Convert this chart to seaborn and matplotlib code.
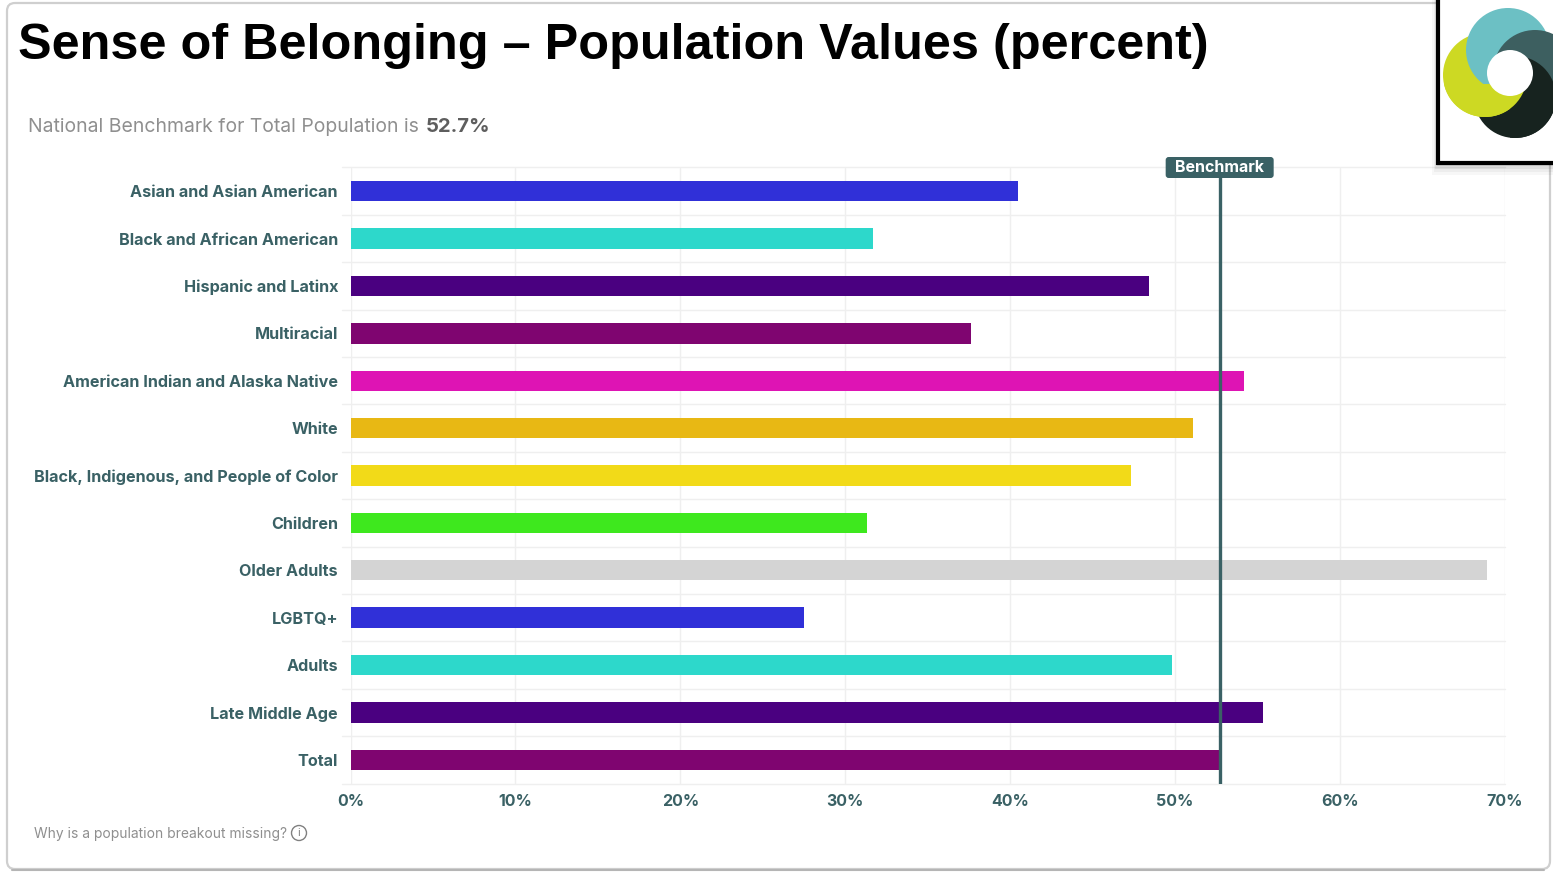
import matplotlib
matplotlib.use('Agg')
import matplotlib.pyplot as plt
from matplotlib.patches import Circle, FancyBboxPatch, Rectangle
from matplotlib.ticker import FuncFormatter
import pandas as pd
import seaborn as sns

categories = ['Asian and Asian American', 'Black and African American', 'Hispanic and Latinx',
              'Multiracial', 'American Indian and Alaska Native', 'White',
              'Black, Indigenous, and People of Color', 'Children', 'Older Adults',
              'LGBTQ+', 'Adults', 'Late Middle Age', 'Total']
values = [40.5, 31.7, 48.4, 37.6, 54.2, 51.1, 47.3, 31.3, 68.9, 27.5, 49.8, 55.3, 52.7]
colors = ['#3030d8', '#2dd8cb', '#4a0080', '#7f0570', '#de14b4', '#e8b814', '#f2da18',
          '#3ee81e', '#d4d4d4', '#3030d8', '#2dd8cb', '#4a0080', '#7f0570']
benchmark = 52.7
xticks = [0, 10, 20, 30, 40, 50, 60, 70]

W, H = 1553, 873
TEAL = '#3a6165'
df = pd.DataFrame({'group': categories, 'pct': values})

sns.set_theme(style='white')
plt.rcParams['font.family'] = ['Inter', 'DejaVu Sans']

fig = plt.figure(figsize=(W / 100, H / 100), dpi=100, facecolor='white')

# page furniture in pixel coordinates, under the chart
bg = fig.add_axes([0, 0, 1, 1], zorder=0)
bg.set_xlim(0, W)
bg.set_ylim(H, 0)
bg.axis('off')
bg.add_patch(FancyBboxPatch((7, 3), 1543, 866, boxstyle='round,pad=0,rounding_size=8',
                            fc='white', ec='#cfcfcf', lw=1.6))
bg.plot([12, 1544], [870, 870], color='#b5b5b5', lw=1.5)
bg.text(18, 46, 'Sense of Belonging \u2013 Population Values (percent)', family='Liberation Sans',
        fontsize=36.3, weight='bold', color='black', va='center')
sub = bg.text(28, 127, 'National Benchmark for Total Population is ', fontsize=13.95,
              color='#8f8f8f', va='center')
fig.canvas.draw()
ext = sub.get_window_extent()
bg.text(ext.x1 + 1, 127, '52.7%', fontsize=14.6, weight='bold', color='#5e5e5e', va='center')
bg.text(34, 834, 'Why is a population breakout missing?', fontsize=9.95, color='#8f8f8f', va='center')
bg.add_patch(Circle((299, 833), 7.5, fc='white', ec='#808080', lw=1))
bg.text(299, 833, 'i', fontsize=8, color='#808080', ha='center', va='center')

# chart
x0, x1, y0, y1 = 350.5, 1505, 167.5, 783.5
ax = fig.add_axes([x0 / W, 1 - y1 / H, (x1 - x0) / W, (y1 - y0) / H], zorder=1)
ax.patch.set_alpha(0)
sns.barplot(data=df, x='pct', y='group', hue='group', palette=colors, order=categories,
            hue_order=categories, dodge=False, legend=False, width=0.43, saturation=1,
            linewidth=0, ax=ax)
ax.set_xlim(0, 70)
ax.set_ylim(12.5, -0.5)
ax.set_xlabel('')
ax.set_ylabel('')
ax.set_xticks(xticks)
ax.xaxis.set_major_formatter(FuncFormatter(lambda v, p: f'{v:.0f}%'))
ax.set_axisbelow(True)
ax.grid(axis='x', color='#efefef', lw=1)
# row lines stick out a little to the left of the zero line
for i in range(14):
    ax.plot([-0.5, 70], [i - 0.5, i - 0.5], color='#efefef', lw=1, zorder=0.5, clip_on=False)
sns.despine(ax=ax, left=True, bottom=True, top=True, right=True)
ax.tick_params(axis='y', length=0, pad=9, labelsize=11.65, labelcolor=TEAL)
ax.tick_params(axis='x', length=0, pad=7.5, labelsize=11.5, labelcolor=TEAL)
for t in ax.get_xticklabels() + ax.get_yticklabels():
    t.set_fontweight('bold')

ax.axvline(benchmark, color=TEAL, lw=2.4, zorder=5)

# logo box and benchmark tag on top
top = fig.add_axes([0, 0, 1, 1], zorder=3)
top.set_xlim(0, W)
top.set_ylim(H, 0)
top.axis('off')
top.patch.set_alpha(0)

cx = ax.transData.transform((benchmark, 0))[0]
top.add_patch(FancyBboxPatch((cx - 54, 157), 108, 21, boxstyle='round,pad=0,rounding_size=3',
                             fc=TEAL, ec='none'))
top.text(cx, 167.5, 'Benchmark', fontsize=11.5, weight='bold', color='white', ha='center', va='center')

for off, a in [(12, 0.03), (9, 0.04), (6, 0.06), (3, 0.08)]:
    top.add_patch(Rectangle((1438 - off / 2, -5), 130, 168 + off, fc='black', ec='none', alpha=a))
top.add_patch(Rectangle((1438, -5), 130, 168, fc='white', ec='black', lw=3))


def disc(cx, cy, r, col, box=(1440, 0, 113, 161)):
    c = Circle((cx, cy), r, fc=col, ec='none')
    top.add_patch(c)
    c.set_clip_path(Rectangle(box[:2], box[2], box[3], transform=top.transData))


# the four rings overlap in a cycle, so black and yellow go down twice
disc(1515, 97, 41, '#17231f')
disc(1485, 75, 42, '#cdd923')
disc(1508, 50, 42, '#6cc0c4')
disc(1535, 72, 42, '#3d5f60')
disc(1515, 97, 41, '#17231f', box=(1510, 0, 43, 161))
disc(1485, 75, 42, '#cdd923', box=(1440, 84, 113, 77))
top.add_patch(Circle((1510, 73), 23, fc='white', ec='none'))

fig.savefig('out.png', dpi=100)
